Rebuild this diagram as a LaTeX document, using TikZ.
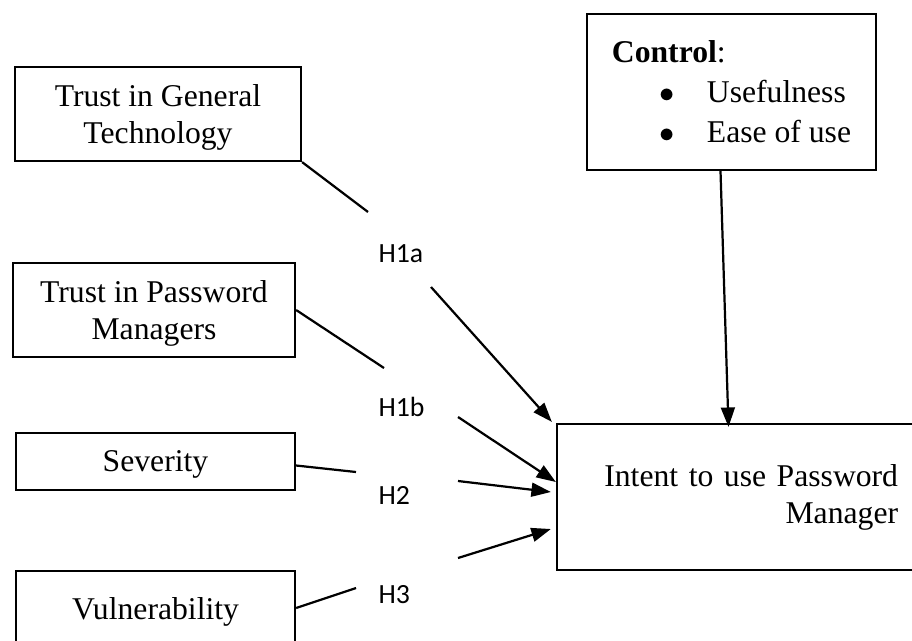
\documentclass[tikz,border=0pt]{standalone}
\usepackage{fontspec}
\setmainfont{Liberation Serif}
\newfontfamily\hypfont{Carlito}
\usetikzlibrary{arrows.meta}
\usetikzlibrary{calc}

\tikzset{
  box/.style={draw, line width=0.8pt, inner sep=0pt, align=center,
    font=\fontsize{11.4}{13.3}\selectfont},
  construct/.style={box, text depth=0pt},
  hyp/.style={inner sep=0pt, anchor=base west, font=\hypfont\fontsize{10}{12}\selectfont},
  link/.style={line width=0.8pt},
  effect/.style={link, -{Triangle[length=7pt,width=5pt]}}
}

\begin{document}
\begin{tikzpicture}[x=0.36pt, y=-0.36pt]
\clip (0,0) rectangle (912,640);

%%% constructs %%%
\node[construct, minimum width=102.96pt, minimum height=33.84pt] (gentech) at (158,114)
  {Trust in General\\Technology};
\node[construct, minimum width=101.52pt, minimum height=33.84pt] (pwtrust) at (154,310)
  {Trust in Password\\Managers};
\node[construct, minimum width=100.44pt, minimum height=20.52pt] (severity) at (155.5,461.5)
  {Severity};
\node[construct, minimum width=100.44pt, minimum height=26.64pt] (vuln) at (155.5,608)
  {Vulnerability};

%% control variables
\node[box, align=left, minimum width=104.04pt, minimum height=56.16pt,
  font=\fontsize{11.4}{14.4}\selectfont] (control) at (731.5,92)
  {\textbf{Control}:\\
   \makebox[34.2pt][l]{\hspace{17pt}$\bullet$}Usefulness\\
   \makebox[34.2pt][l]{\hspace{17pt}$\bullet$}Ease of use};

%% outcome
\node[box, align=right, inner xsep=11.5pt, text width=111.3pt, minimum height=52.56pt]
  (intent) at (743.5,497) {Intent to use Password\\Manager};

%%% hypothesis labels %%%
\node[hyp] (h1a) at (378,262) {H1a};
\node[hyp] (h1b) at (378,416) {H1b};
\node[hyp] (h2) at (378,504) {H2};
\node[hyp] (h3) at (378,603) {H3};

%% free ends of the broken paths
\coordinate (h1a-in) at (368,212);
\coordinate (h1a-out) at (431,287);
\coordinate (h1b-in) at (384,368);
\coordinate (h1b-out) at (458,417);
\coordinate (h2-in) at (356,472);
\coordinate (h2-out) at (458,481);
\coordinate (h3-in) at (356,588);
\coordinate (h3-out) at (458,558);

%%% paths %%%
\draw[link] (gentech.south east) -- (h1a-in);
\draw[effect] (h1a-out) -- ($(intent.north west)+(-4,-1)$);

\draw[link] (pwtrust.east) -- (h1b-in);
\draw[effect] (h1b-out) -- ($(intent.west)+(0,-15)$);

\draw[link] ($(severity.east)+(0,4)$) -- (h2-in);
\draw[effect] (h2-out) -- ($(intent.west)+(-5,-5)$);

\draw[link] (vuln.east) -- (h3-in);
\draw[effect] (h3-out) -- ($(intent.west)+(-5,32)$);

\draw[effect] ($(control.south)+(-11,0)$) -- ($(intent.north)+(-15,4)$);

\end{tikzpicture}
\end{document}
